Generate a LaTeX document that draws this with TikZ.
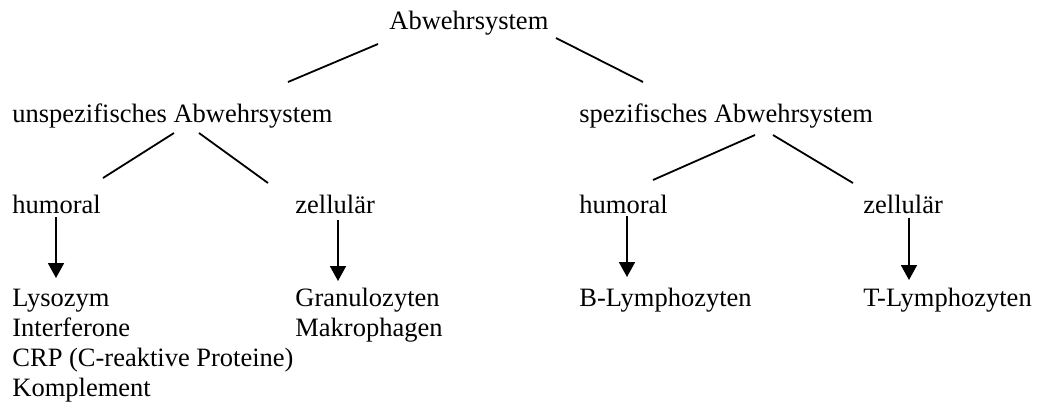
\documentclass[tikz,border=0pt]{standalone}
\usepackage{fontspec}
\setmainfont{Liberation Serif}
\usetikzlibrary{calc,arrows.meta}
\begin{document}
\begin{tikzpicture}[x=0.5pt,y=-0.5pt,
  lbl/.style={anchor=base west,inner sep=0pt,font=\fontsize{13.25pt}{16pt}\selectfont},
  conn/.style={line width=0.9pt},
  arr/.style={line width=0.9pt,-{Triangle[width=8pt,length=7.5pt]}}]
\useasboundingbox (0,0) rectangle (1040,403);
\node[lbl] (root) at (389,29) {Abwehrsystem};
\node[lbl] (uns) at (12,122) {unspezifisches Abwehrsystem};
\node[lbl] (spe) at (579,122) {spezifisches Abwehrsystem};
\node[lbl] (uh) at (12,213) {humoral};
\node[lbl] (uz) at (295,213) {zellulär};
\node[lbl] (sh) at (579,213) {humoral};
\node[lbl] (sz) at (863,213) {zellulär};
\node[lbl] (l1) at (12,306) {Lysozym};
\node[lbl] (l2) at (12,336) {Interferone};
\node[lbl] (l3) at (12,366) {CRP (C-reaktive Proteine)};
\node[lbl] (l4) at (12,396) {Komplement};
\node[lbl] (g1) at (295,306) {Granulozyten};
\node[lbl] (g2) at (295,336) {Makrophagen};
\node[lbl] (b) at (579,306) {B-Lymphozyten};
\node[lbl] (t) at (863,306) {T-Lymphozyten};
\draw[conn] ($(root.base west)+(-11,15)$) -- ($(uns.base west)+(276,-40)$);
\draw[conn] ($(root.base west)+(167,9)$) -- ($(spe.base west)+(64,-40)$);
\draw[conn] ($(uns.base west)+(162,11)$) -- ($(uh.base west)+(91,-35)$);
\draw[conn] ($(uns.base west)+(187,11)$) -- ($(uz.base west)+(-27,-30)$);
\draw[conn] ($(spe.base west)+(176,13)$) -- ($(sh.base west)+(74,-33)$);
\draw[conn] ($(spe.base west)+(194,13)$) -- ($(sz.base west)+(-10,-30)$);
\draw[arr] ($(uh.base west)+(44,4)$) -- ($(l1.base west)+(44,-28)$);
\draw[arr] ($(uz.base west)+(43,7)$) -- ($(g1.base west)+(43,-25)$);
\draw[arr] ($(sh.base west)+(48,3)$) -- ($(b.base west)+(48,-29)$);
\draw[arr] ($(sz.base west)+(46,5)$) -- ($(t.base west)+(46,-26)$);
\end{tikzpicture}
\end{document}
